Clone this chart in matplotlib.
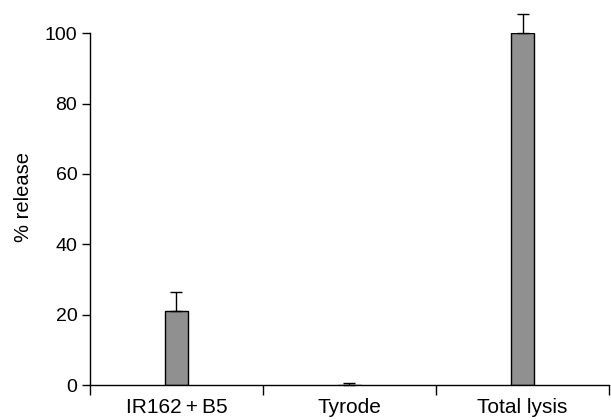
import numpy as np
import matplotlib
matplotlib.use('Agg')
import matplotlib.pyplot as plt

# データ
categories = ['IR162\u2009+\u2009B5', 'Tyrode', 'Total lysis']
release = [21.2, 0.0, 100.0]
errors = [5.3, 0.6, 5.4]

plt.rcParams['font.family'] = ['Liberation Sans', 'DejaVu Sans']

fig = plt.figure(figsize=(6.11, 4.2), dpi=100)
ax = fig.add_axes([0.147, 0.083, 0.85, 0.838])

x = np.arange(len(categories))
ax.bar(x, release, width=0.13, color='#909090', edgecolor='black', linewidth=1.0, zorder=2)
ax.errorbar(x, release, yerr=[np.zeros(len(errors)), errors], fmt='none',
            ecolor='black', elinewidth=1.0, capsize=4.5, capthick=1.0, clip_on=False, zorder=3)

ax.set_xlim(-0.5, len(categories) - 0.5)
ax.set_ylim(0, 100)
ax.set_yticks([0, 20, 40, 60, 80, 100])
ax.tick_params(axis='y', direction='out', length=6, width=1, labelsize=14, pad=3)

# カテゴリ境界に目盛、中央にラベル
ax.set_xticks(np.arange(-0.5, len(categories), 1.0))
ax.set_xticklabels([])
ax.set_xticks(x, minor=True)
ax.set_xticklabels(categories, minor=True, fontsize=15)
ax.tick_params(axis='x', which='major', direction='out', length=7, width=1)
ax.tick_params(axis='x', which='minor', length=0, pad=9)

ax.set_ylabel('% release', fontsize=14.5)
ax.yaxis.set_label_coords(-0.11, 0.535)

for s in ['top', 'right']:
    ax.spines[s].set_visible(False)
for s in ['left', 'bottom']:
    ax.spines[s].set_linewidth(1.0)

plt.savefig('out.png', dpi=100)
